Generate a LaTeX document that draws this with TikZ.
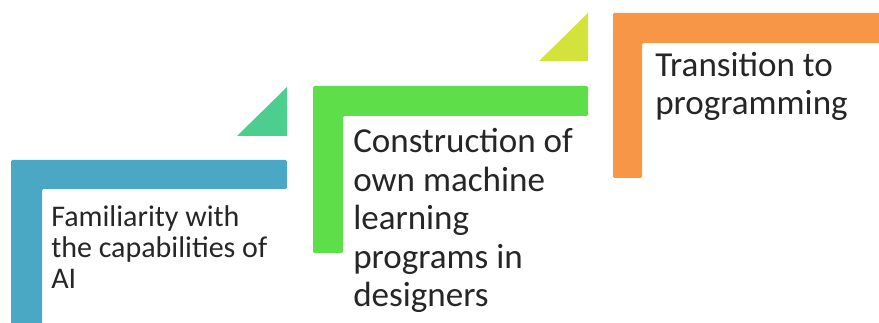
\documentclass[tikz,border=0pt]{standalone}
\usepackage{fontspec}
\setmainfont{Carlito}
\usepackage{tikz}
\usetikzlibrary{positioning}
\definecolor{stepBlue}{HTML}{4BA8C4}
\definecolor{stepTeal}{HTML}{4CCF8E}
\definecolor{stepGreen}{HTML}{5EDE48}
\definecolor{stepLime}{HTML}{D4E33C}
\definecolor{stepOrange}{HTML}{F79646}
\tikzstyle{stepshape} = [rounded corners=1pt]
\tikzstyle{steptext} = [anchor=base west, inner sep=0pt, align=left, text=black!85]
\tikzstyle{smalltext} = [steptext, font=\fontsize{22.5}{23.25}\selectfont]
\tikzstyle{bigtext} = [steptext, font=\fontsize{26.3}{28.9}\selectfont]

\begin{document}
\begin{tikzpicture}[
    x=0.75pt,
    y=-0.75pt
]
    \useasboundingbox (0,0) rectangle (879,323);

    % steps
    \fill[stepshape, stepBlue] (11,160) -- (287,160) -- (287,189) -- (42,189)
        -- (42,330) -- (11,330) -- cycle;
    \fill[stepshape, stepGreen] (313,86) -- (588,86) -- (588,116) -- (343,116)
        -- (343,253) -- (313,253) -- cycle;
    \fill[stepshape, stepOrange] (613,13) -- (890,13) -- (890,43) -- (642,43)
        -- (642,178) -- (613,178) -- cycle;

    % triangles
    \fill[stepTeal] (237,136) -- (287,136) -- (287,87) -- cycle;
    \fill[stepLime] (539,61) -- (588,61) -- (588,13) -- cycle;

    % texts, placed at the baseline of their last line
    \node[smalltext] (familiarity) at (51,289)
        {Familiarity with\\the capabilities of\\AI};
    \node[bigtext] (construction) at (353,307)
        {Construction of\\own machine\\learning\\programs in\\designers};
    \node[bigtext] (transition) at (655,115)
        {Transition to\\programming};
\end{tikzpicture}
\end{document}
